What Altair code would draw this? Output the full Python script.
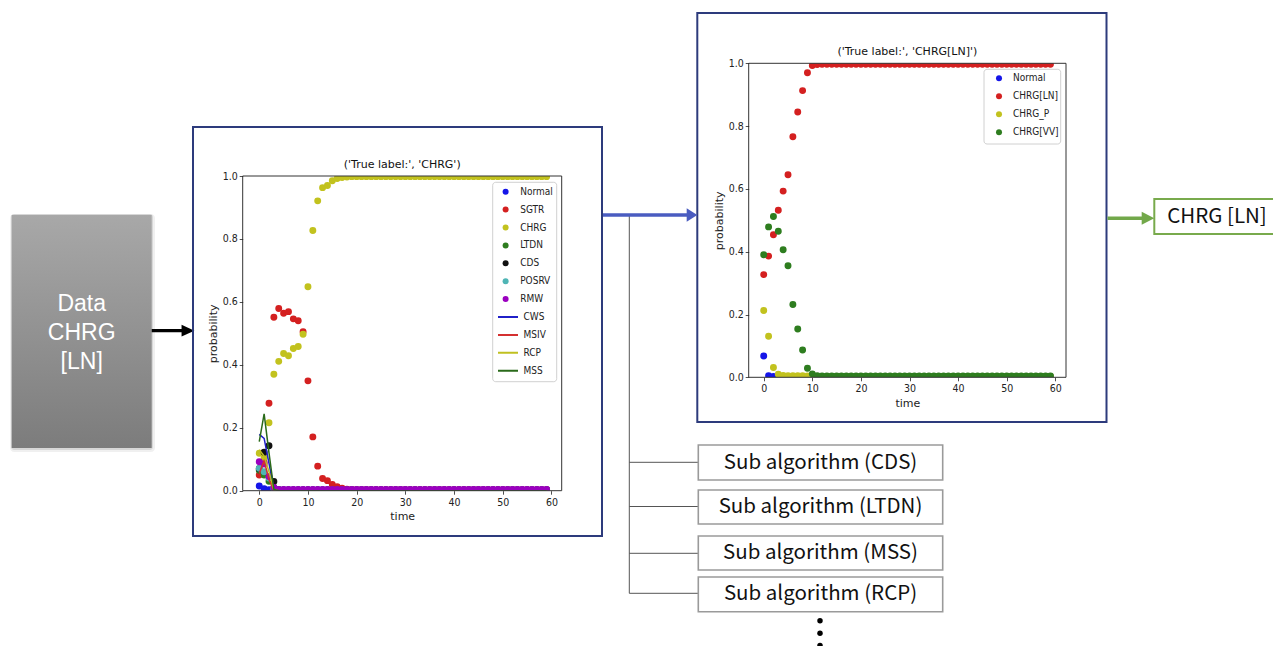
import altair as alt
import pandas as pd

OFF = 8          # page margin
W, H = 1265, 638  # drawing area

# ---------------- data ----------------
time = list(range(60))

p1_points = ["Normal", "SGTR", "CHRG", "LTDN", "CDS", "POSRV", "RMW"]
p1_point_colors = ["#1515e8", "#d42020", "#c2c21e", "#2e7d1f", "#111111", "#4fb5b5", "#9b00c0"]
p1_lines = ["CWS", "MSIV", "RCP", "MSS"]
p1_line_colors = ["#2020c8", "#d43030", "#c0c020", "#2a6a1a"]

p1_normal = [0.015, 0.006, 0.003, 0.002, 0.002, 0.002, 0.002, 0.002, 0.002, 0.002,
             0.002, 0.002, 0.002, 0.002, 0.002, 0.002, 0.002, 0.002, 0.002, 0.002,
             0.002, 0.002, 0.002, 0.002, 0.002, 0.002, 0.002, 0.002, 0.002, 0.002,
             0.002, 0.002, 0.002, 0.002, 0.002, 0.002, 0.002, 0.002, 0.002, 0.002,
             0.002, 0.002, 0.002, 0.002, 0.002, 0.002, 0.002, 0.002, 0.002, 0.002,
             0.002, 0.002, 0.002, 0.002, 0.002, 0.002, 0.002, 0.002, 0.002, 0.002]
p1_sgtr = [0.050, 0.090, 0.278, 0.551, 0.579, 0.564, 0.569, 0.546, 0.540, 0.505,
           0.349, 0.171, 0.078, 0.039, 0.032, 0.020, 0.013, 0.008, 0.005, 0.004,
           0.003, 0.003, 0.003, 0.003, 0.003, 0.003, 0.003, 0.003, 0.003, 0.003,
           0.003, 0.003, 0.003, 0.003, 0.003, 0.003, 0.003, 0.003, 0.003, 0.003,
           0.003, 0.003, 0.003, 0.003, 0.003, 0.003, 0.003, 0.003, 0.003, 0.003,
           0.003, 0.003, 0.003, 0.003, 0.003, 0.003, 0.003, 0.003, 0.003, 0.003]
p1_chrg = [0.119, 0.105, 0.216, 0.370, 0.411, 0.436, 0.429, 0.452, 0.458, 0.497,
           0.648, 0.827, 0.921, 0.963, 0.970, 0.985, 0.992, 0.995, 0.997, 0.998,
           0.998, 0.998, 0.998, 0.998, 0.998, 0.998, 0.998, 0.998, 0.998, 0.998,
           0.998, 0.998, 0.998, 0.998, 0.998, 0.998, 0.998, 0.998, 0.998, 0.998,
           0.998, 0.998, 0.998, 0.998, 0.998, 0.998, 0.998, 0.998, 0.998, 0.998,
           0.998, 0.998, 0.998, 0.998, 0.998, 0.998, 0.998, 0.998, 0.998, 0.998]
p1_ltdn = [0.065, 0.050, 0.030, 0.010, 0.003, 0.002, 0.002, 0.002, 0.002, 0.002,
           0.002, 0.002, 0.002, 0.002, 0.002, 0.002, 0.002, 0.002, 0.002, 0.002,
           0.002, 0.002, 0.002, 0.002, 0.002, 0.002, 0.002, 0.002, 0.002, 0.002,
           0.002, 0.002, 0.002, 0.002, 0.002, 0.002, 0.002, 0.002, 0.002, 0.002,
           0.002, 0.002, 0.002, 0.002, 0.002, 0.002, 0.002, 0.002, 0.002, 0.002,
           0.002, 0.002, 0.002, 0.002, 0.002, 0.002, 0.002, 0.002, 0.002, 0.002]
p1_cds = [0.070, 0.122, 0.143, 0.029, 0.003, 0.002, 0.002, 0.002, 0.002, 0.002,
          0.002, 0.002, 0.002, 0.002, 0.002, 0.002, 0.002, 0.002, 0.002, 0.002,
          0.002, 0.002, 0.002, 0.002, 0.002, 0.002, 0.002, 0.002, 0.002, 0.002,
          0.002, 0.002, 0.002, 0.002, 0.002, 0.002, 0.002, 0.002, 0.002, 0.002,
          0.002, 0.002, 0.002, 0.002, 0.002, 0.002, 0.002, 0.002, 0.002, 0.002,
          0.002, 0.002, 0.002, 0.002, 0.002, 0.002, 0.002, 0.002, 0.002, 0.002]
p1_posrv = [0.071, 0.060, 0.040, 0.006, 0.003, 0.002, 0.002, 0.002, 0.002, 0.002,
            0.002, 0.002, 0.002, 0.002, 0.002, 0.002, 0.002, 0.002, 0.002, 0.002,
            0.002, 0.002, 0.002, 0.002, 0.002, 0.002, 0.002, 0.002, 0.002, 0.002,
            0.002, 0.002, 0.002, 0.002, 0.002, 0.002, 0.002, 0.002, 0.002, 0.002,
            0.002, 0.002, 0.002, 0.002, 0.002, 0.002, 0.002, 0.002, 0.002, 0.002,
            0.002, 0.002, 0.002, 0.002, 0.002, 0.002, 0.002, 0.002, 0.002, 0.002]
p1_rmw = [0.092, 0.085, 0.045, 0.010, 0.004, 0.004, 0.004, 0.004, 0.004, 0.004,
          0.004, 0.004, 0.004, 0.004, 0.004, 0.004, 0.004, 0.004, 0.004, 0.004,
          0.004, 0.004, 0.004, 0.004, 0.004, 0.004, 0.004, 0.004, 0.004, 0.004,
          0.004, 0.004, 0.004, 0.004, 0.004, 0.004, 0.004, 0.004, 0.004, 0.004,
          0.004, 0.004, 0.004, 0.004, 0.004, 0.004, 0.004, 0.004, 0.004, 0.004,
          0.004, 0.004, 0.004, 0.004, 0.004, 0.004, 0.004, 0.004, 0.004, 0.004]
p1_cws = [0.179, 0.166, 0.087, 0.005, 0.000, 0.000, 0.000, 0.000, 0.000, 0.000,
          0.000, 0.000, 0.000, 0.000, 0.000, 0.000, 0.000, 0.000, 0.000, 0.000,
          0.000, 0.000, 0.000, 0.000, 0.000, 0.000, 0.000, 0.000, 0.000, 0.000,
          0.000, 0.000, 0.000, 0.000, 0.000, 0.000, 0.000, 0.000, 0.000, 0.000,
          0.000, 0.000, 0.000, 0.000, 0.000, 0.000, 0.000, 0.000, 0.000, 0.000,
          0.000, 0.000, 0.000, 0.000, 0.000, 0.000, 0.000, 0.000, 0.000, 0.000]
p1_msiv = [0.055, 0.095, 0.035, 0.002, 0.000, 0.000, 0.000, 0.000, 0.000, 0.000,
           0.000, 0.000, 0.000, 0.000, 0.000, 0.000, 0.000, 0.000, 0.000, 0.000,
           0.000, 0.000, 0.000, 0.000, 0.000, 0.000, 0.000, 0.000, 0.000, 0.000,
           0.000, 0.000, 0.000, 0.000, 0.000, 0.000, 0.000, 0.000, 0.000, 0.000,
           0.000, 0.000, 0.000, 0.000, 0.000, 0.000, 0.000, 0.000, 0.000, 0.000,
           0.000, 0.000, 0.000, 0.000, 0.000, 0.000, 0.000, 0.000, 0.000, 0.000]
p1_rcp = [0.130, 0.110, 0.060, 0.003, 0.000, 0.000, 0.000, 0.000, 0.000, 0.000,
          0.000, 0.000, 0.000, 0.000, 0.000, 0.000, 0.000, 0.000, 0.000, 0.000,
          0.000, 0.000, 0.000, 0.000, 0.000, 0.000, 0.000, 0.000, 0.000, 0.000,
          0.000, 0.000, 0.000, 0.000, 0.000, 0.000, 0.000, 0.000, 0.000, 0.000,
          0.000, 0.000, 0.000, 0.000, 0.000, 0.000, 0.000, 0.000, 0.000, 0.000,
          0.000, 0.000, 0.000, 0.000, 0.000, 0.000, 0.000, 0.000, 0.000, 0.000]
p1_mss = [0.156, 0.244, 0.120, 0.004, 0.000, 0.000, 0.000, 0.000, 0.000, 0.000,
          0.000, 0.000, 0.000, 0.000, 0.000, 0.000, 0.000, 0.000, 0.000, 0.000,
          0.000, 0.000, 0.000, 0.000, 0.000, 0.000, 0.000, 0.000, 0.000, 0.000,
          0.000, 0.000, 0.000, 0.000, 0.000, 0.000, 0.000, 0.000, 0.000, 0.000,
          0.000, 0.000, 0.000, 0.000, 0.000, 0.000, 0.000, 0.000, 0.000, 0.000,
          0.000, 0.000, 0.000, 0.000, 0.000, 0.000, 0.000, 0.000, 0.000, 0.000]

p2_points = ["Normal", "CHRG[LN]", "CHRG_P", "CHRG[VV]"]
p2_point_colors = ["#1515e8", "#d42020", "#c2c21e", "#2e7d1f"]
p2_normal = [0.068, 0.005, 0.003, 0.002, 0.002, 0.002, 0.002, 0.002, 0.002, 0.002,
             0.002, 0.002, 0.002, 0.002, 0.002, 0.002, 0.002, 0.002, 0.002, 0.002,
             0.002, 0.002, 0.002, 0.002, 0.002, 0.002, 0.002, 0.002, 0.002, 0.002,
             0.002, 0.002, 0.002, 0.002, 0.002, 0.002, 0.002, 0.002, 0.002, 0.002,
             0.002, 0.002, 0.002, 0.002, 0.002, 0.002, 0.002, 0.002, 0.002, 0.002,
             0.002, 0.002, 0.002, 0.002, 0.002, 0.002, 0.002, 0.002, 0.002, 0.002]
p2_chrg_ln = [0.327, 0.386, 0.454, 0.532, 0.593, 0.645, 0.766, 0.845, 0.913, 0.970,
              0.993, 0.996, 0.997, 0.997, 0.997, 0.997, 0.997, 0.997, 0.997, 0.997,
              0.997, 0.997, 0.997, 0.997, 0.997, 0.997, 0.997, 0.997, 0.997, 0.997,
              0.997, 0.997, 0.997, 0.997, 0.997, 0.997, 0.997, 0.997, 0.997, 0.997,
              0.997, 0.997, 0.997, 0.997, 0.997, 0.997, 0.997, 0.997, 0.997, 0.997,
              0.997, 0.997, 0.997, 0.997, 0.997, 0.997, 0.997, 0.997, 0.997, 0.997]
p2_chrg_p = [0.213, 0.131, 0.031, 0.010, 0.006, 0.005, 0.005, 0.005, 0.005, 0.004,
             0.003, 0.003, 0.003, 0.003, 0.003, 0.003, 0.003, 0.003, 0.003, 0.003,
             0.003, 0.003, 0.003, 0.003, 0.003, 0.003, 0.003, 0.003, 0.003, 0.003,
             0.003, 0.003, 0.003, 0.003, 0.003, 0.003, 0.003, 0.003, 0.003, 0.003,
             0.003, 0.003, 0.003, 0.003, 0.003, 0.003, 0.003, 0.003, 0.003, 0.003,
             0.003, 0.003, 0.003, 0.003, 0.003, 0.003, 0.003, 0.003, 0.003, 0.003]
p2_chrg_vv = [0.390, 0.479, 0.512, 0.465, 0.406, 0.355, 0.232, 0.154, 0.087, 0.029,
              0.011, 0.005, 0.004, 0.004, 0.004, 0.004, 0.004, 0.004, 0.004, 0.004,
              0.004, 0.004, 0.004, 0.004, 0.004, 0.004, 0.004, 0.004, 0.004, 0.004,
              0.004, 0.004, 0.004, 0.004, 0.004, 0.004, 0.004, 0.004, 0.004, 0.004,
              0.004, 0.004, 0.004, 0.004, 0.004, 0.004, 0.004, 0.004, 0.004, 0.004,
              0.004, 0.004, 0.004, 0.004, 0.004, 0.004, 0.004, 0.004, 0.004, 0.004]

x_ticks = [0, 10, 20, 30, 40, 50, 60]
y_ticks = [0.0, 0.2, 0.4, 0.6, 0.8, 1.0]

plot1_title = "('True label:', 'CHRG')"
plot2_title = "('True label:', 'CHRG[LN]')"
input_lines = ["Data", "CHRG", "[LN]"]
output_label = "CHRG [LN]"
sub_algorithms = ["Sub algorithm (CDS)", "Sub algorithm (LTDN)",
                  "Sub algorithm (MSS)", "Sub algorithm (RCP)"]


def long(names, series, field):
    rows = []
    for name, vals in zip(names, series):
        for t, v in zip(time, vals):
            rows.append({field: name, "time": t, "prob": v})
    return pd.DataFrame(rows)


df1p = long(p1_points, [p1_normal, p1_sgtr, p1_chrg, p1_ltdn, p1_cds, p1_posrv, p1_rmw], "s1")
df1l = long(p1_lines, [p1_cws, p1_msiv, p1_rcp, p1_mss], "l1")
df2p = long(p2_points, [p2_normal, p2_chrg_ln, p2_chrg_p, p2_chrg_vv], "s2")

# ---------------- layout (page pixels) ----------------
P1 = dict(left=242.7, right=561.7, top=176.0, bottom=490.7, xdom=[-3.4, 62.1])
P2 = dict(left=748.7, right=1066.0, top=63.3, bottom=377.3, xdom=[-3.09, 62.2])

FONT = "DejaVu Sans"
NARROW = "'DejaVu Sans Condensed', 'Liberation Sans Narrow', 'DejaVu Sans'"
TXT = "#222222"
ONE = pd.DataFrame({"k": [0]})
PT_SIZE = 48
LEG_FS = 10


def box(x1, y1, x2, y2, **kw):
    return alt.Chart(ONE).mark_rect(**kw).encode(
        x=alt.value(x1 - OFF), x2=alt.value(x2 - OFF),
        y=alt.value(y1 - OFF), y2=alt.value(y2 - OFF))


def rule(x1, y1, x2, y2, **kw):
    return alt.Chart(ONE).mark_rule(**kw).encode(
        x=alt.value(x1 - OFF), x2=alt.value(x2 - OFF),
        y=alt.value(y1 - OFF), y2=alt.value(y2 - OFF))


def label(text, x, y, **kw):
    return alt.Chart(pd.DataFrame({"t": [text]})).mark_text(**kw).encode(
        x=alt.value(x - OFF), y=alt.value(y - OFF), text="t:N")


def head(x, y, half_w, size, color):
    path = f"M{-half_w},-1L{half_w},0L{-half_w},1Z"
    return alt.Chart(ONE).mark_point(shape=path, size=size, filled=True, color=color,
                                     opacity=1, strokeWidth=0).encode(
        x=alt.value(x - OFF), y=alt.value(y - OFF))


def dot(x, y, size, color):
    return alt.Chart(ONE).mark_circle(size=size, color=color, opacity=1).encode(
        x=alt.value(x - OFF), y=alt.value(y - OFF))


def axes(P):
    common = dict(grid=False, domain=False, tickSize=3.5, tickWidth=0.8, tickColor=TXT,
                  labelFont=NARROW, labelFontSize=10.5, labelColor=TXT, labelFlush=False,
                  labelOverlap=False, titleFont=FONT, titleFontSize=11,
                  titleFontWeight="normal", titleColor=TXT, zindex=1)
    xa = alt.Axis(values=x_ticks, orient="bottom", offset=(P["bottom"] - OFF) - H,
                  title="time", labelPadding=3, titlePadding=3, **common)
    ya = alt.Axis(values=y_ticks, format=".1f", orient="left", offset=-(P["left"] - OFF),
                  title="probability", labelPadding=2, titlePadding=4, **common)
    X = alt.X("time:Q", axis=xa,
              scale=alt.Scale(domain=P["xdom"], range=[P["left"] - OFF, P["right"] - OFF],
                              nice=False, zero=False))
    Y = alt.Y("prob:Q", axis=ya,
              scale=alt.Scale(domain=[0, 1], range=[P["bottom"] - OFF, P["top"] - OFF],
                              nice=False, zero=False))
    return X, Y


leg_common = dict(orient="none", title=None, labelFont=NARROW, labelFontSize=LEG_FS,
                  labelColor=TXT, padding=0, clipHeight=11, zindex=1)

X1, Y1 = axes(P1)
pts1 = alt.Chart(df1p).mark_circle(size=PT_SIZE, opacity=1).encode(
    x=X1, y=Y1,
    fill=alt.Fill("s1:N", scale=alt.Scale(domain=p1_points, range=p1_point_colors),
                  legend=alt.Legend(legendX=500.6 - OFF, legendY=191.7 - 5.5 - OFF,
                                    symbolType="circle", symbolSize=36, symbolStrokeWidth=0,
                                    rowPadding=6.9, labelOffset=9.6, **leg_common)))
lines1 = alt.Chart(df1l).mark_line(strokeWidth=1.5).encode(
    x=X1, y=Y1,
    stroke=alt.Stroke("l1:N", scale=alt.Scale(domain=p1_lines, range=p1_line_colors),
                      legend=alt.Legend(legendX=497 - OFF, legendY=317 - 5.5 - OFF,
                                        symbolType="stroke", symbolSize=400,
                                        symbolStrokeWidth=2, rowPadding=6.9,
                                        labelOffset=4.5, **leg_common)))
plot1 = alt.layer(pts1, lines1)

X2, Y2 = axes(P2)
pts2 = alt.Chart(df2p).mark_circle(size=PT_SIZE, opacity=1).encode(
    x=X2, y=Y2,
    fill=alt.Fill("s2:N", scale=alt.Scale(domain=p2_points, range=p2_point_colors),
                  legend=alt.Legend(legendX=994 - OFF, legendY=78.3 - 5.5 - OFF,
                                    symbolType="circle", symbolSize=36, symbolStrokeWidth=0,
                                    rowPadding=7, labelOffset=9, **leg_common)))
plot2 = alt.layer(pts2)

# ---------------- decorations ----------------
NAVY = "#2d3b7c"
decor = []
# input block with shadow and gradient
decor.append(box(10, 214, 155, 452, color="#000000", opacity=0.06, cornerRadius=4))
decor.append(box(11, 214, 153, 450, color="#000000", opacity=0.10, cornerRadius=3))
decor.append(box(11.7, 215, 151.7, 448, fill=alt.Gradient(
    gradient="linear", x1=0, x2=0, y1=0, y2=1,
    stops=[alt.GradientStop(color="#a8a8a8", offset=0),
           alt.GradientStop(color="#7c7c7c", offset=1)])))
for i, txt in enumerate(input_lines):
    decor.append(label(txt, 81.7, 304 + 29 * i, font="Liberation Sans", fontSize=23,
                       color="white", align="center", baseline="middle"))
# black arrow
decor.append(rule(151.7, 330.7, 184, 330.7, color="#000000", strokeWidth=3.3))
decor.append(head(188, 330.7, 1.1, 137, "#000000"))
# frames
decor.append(box(193, 127, 602, 536, filled=False, stroke=NAVY, strokeWidth=2))
decor.append(box(697.3, 13, 1106.5, 422, filled=False, stroke=NAVY, strokeWidth=2))
# blue arrow and connectors
decor.append(rule(629.3, 215, 629.3, 593.3, color="#555555", strokeWidth=1))
for yy in [462.3, 506.5, 553.3, 593.3]:
    decor.append(rule(629.3, yy, 698.3, yy, color="#555555", strokeWidth=1))
decor.append(rule(603, 215, 688, 215, color="#4a5cc0", strokeWidth=3.6))
decor.append(head(692, 215, 0.79, 180, "#4a5cc0"))
# sub algorithm boxes
sub_boxes = [(445, 480), (490, 524), (536, 570), (577, 611.7)]
for txt, (y1, y2) in zip(sub_algorithms, sub_boxes):
    decor.append(box(698.3, y1, 942.7, y2, color="white", stroke="#9a9a9a", strokeWidth=1.6))
    decor.append(label(txt, 820.5, (y1 + y2) / 2, font="Noto Sans CJK KR", fontSize=20.5,
                       color="#111111", align="center", baseline="middle"))
for yy in [620.7, 633.3, 645.5]:
    decor.append(dot(820, yy, 30, "#000000"))
# green arrow and output
decor.append(rule(1107.5, 218.3, 1143, 218.3, color="#72a84a", strokeWidth=3.6))
decor.append(head(1148, 218.3, 0.97, 169, "#72a84a"))
decor.append(box(1154.3, 199, 1277.7, 234, color="white", stroke="#78aa4c", strokeWidth=2))
decor.append(label(output_label, 1217, 217, font="Noto Sans CJK KR", fontSize=20.5,
                   color="#111111", align="center", baseline="middle"))
# plot titles
decor.append(label(plot1_title, (P1["left"] + P1["right"]) / 2, 165, font=FONT, fontSize=11,
                   color="#111111", align="center", baseline="middle"))
decor.append(label(plot2_title, (P2["left"] + P2["right"]) / 2, 51.7, font=FONT, fontSize=11,
                   color="#111111", align="center", baseline="middle"))

after = []
for P in (P1, P2):
    # clip the marker overflow beyond the axes (matplotlib clipping)
    after.append(box(P["left"] - 1, P["top"] - 5, P["right"] + 1, P["top"], color="white"))
    after.append(box(P["left"] - 1, P["bottom"], P["right"] + 1, P["bottom"] + 4.5, color="white"))
    after.append(box(P["left"], P["top"], P["right"], P["bottom"], filled=False,
                     stroke="#333333", strokeWidth=1))
after.append(box(492.7, 182.3, 556.7, 381.7, color="white", opacity=0.9, stroke="#cccccc",
                 strokeWidth=1, cornerRadius=3))
after.append(box(984, 69.3, 1060.7, 144, color="white", opacity=0.9, stroke="#cccccc",
                 strokeWidth=1, cornerRadius=3))

chart = alt.layer(*decor, plot1, plot2, *after).resolve_scale(
    x="independent", y="independent", fill="independent", stroke="independent"
).resolve_legend(fill="independent", stroke="independent").properties(
    width=W, height=H, autosize=alt.AutoSizeParams(type="none"), padding=0,
    background="white"
).configure_view(strokeWidth=0)

chart.save("out.html", embed_options={"renderer": "svg", "actions": False})
